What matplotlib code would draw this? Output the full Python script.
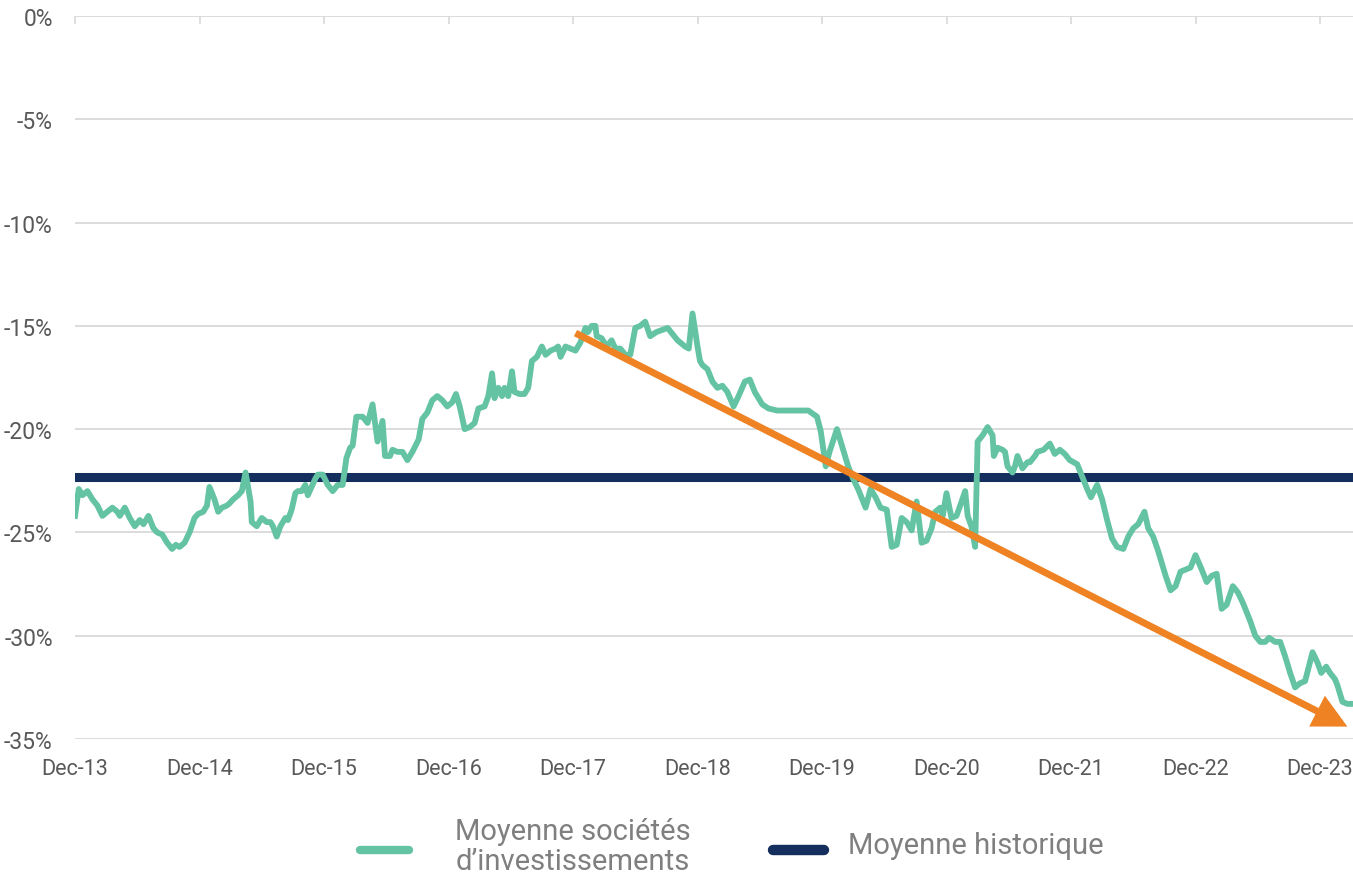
import numpy as np
import matplotlib
matplotlib.use("Agg")
import matplotlib.pyplot as plt
from matplotlib import font_manager
from matplotlib.lines import Line2D

# ---------------- data ----------------
# x: years since Dec-13 ; y: discount in %
x_years = [0.00, 0.03, 0.06, 0.10, 0.14, 0.18, 0.22, 0.26, 0.30, 0.34, 0.36, 0.40, 0.44, 0.48, 0.52,
           0.55, 0.59, 0.63, 0.66, 0.70, 0.74, 0.78, 0.81, 0.84, 0.88, 0.92, 0.96, 0.99, 1.03, 1.06,
           1.08, 1.12, 1.15, 1.18, 1.22, 1.24, 1.27, 1.31, 1.34, 1.37, 1.41, 1.42, 1.46, 1.50, 1.54,
           1.57, 1.59, 1.62, 1.65, 1.69, 1.71, 1.74, 1.77, 1.79, 1.82, 1.85, 1.87, 1.90, 1.93, 1.95,
           1.99, 2.03, 2.07, 2.11, 2.15, 2.18, 2.21, 2.23, 2.26, 2.31, 2.35, 2.39, 2.43, 2.47, 2.49,
           2.53, 2.55, 2.59, 2.63, 2.67, 2.71, 2.76, 2.79, 2.83, 2.87, 2.91, 2.95, 2.99, 3.03, 3.06,
           3.09, 3.13, 3.17, 3.21, 3.24, 3.29, 3.32, 3.35, 3.37, 3.40, 3.43, 3.45, 3.48, 3.51, 3.53,
           3.57, 3.61, 3.64, 3.67, 3.71, 3.75, 3.78, 3.82, 3.86, 3.88, 3.90, 3.94, 3.98, 4.02, 4.06,
           4.10, 4.12, 4.15, 4.18, 4.19, 4.23, 4.27, 4.31, 4.34, 4.38, 4.42, 4.46, 4.50, 4.54, 4.58,
           4.62, 4.67, 4.76, 4.80, 4.84, 4.90, 4.93, 4.96, 5.00, 5.02, 5.04, 5.08, 5.12, 5.16, 5.20,
           5.24, 5.29, 5.33, 5.38, 5.42, 5.46, 5.52, 5.57, 5.64, 5.74, 5.85, 5.89, 5.96, 5.99, 6.03,
           6.06, 6.12, 6.17, 6.21, 6.25, 6.29, 6.35, 6.39, 6.43, 6.47, 6.52, 6.56, 6.60, 6.64, 6.68,
           6.72, 6.76, 6.80, 6.84, 6.88, 6.91, 6.95, 6.97, 7.00, 7.04, 7.08, 7.11, 7.15, 7.17, 7.20,
           7.23, 7.25, 7.29, 7.33, 7.37, 7.38, 7.41, 7.45, 7.47, 7.49, 7.53, 7.55, 7.57, 7.61, 7.65,
           7.67, 7.71, 7.73, 7.78, 7.83, 7.87, 7.91, 7.95, 7.99, 8.05, 8.09, 8.13, 8.16, 8.21, 8.25,
           8.29, 8.33, 8.37, 8.42, 8.46, 8.50, 8.54, 8.59, 8.62, 8.66, 8.70, 8.76, 8.80, 8.84, 8.88,
           8.92, 8.96, 9.00, 9.05, 9.09, 9.13, 9.17, 9.21, 9.25, 9.30, 9.34, 9.38, 9.44, 9.48, 9.52,
           9.56, 9.59, 9.64, 9.68, 9.72, 9.76, 9.80, 9.84, 9.88, 9.94, 9.98, 10.01, 10.05, 10.08, 10.12,
           10.14, 10.18, 10.22, 10.27]
discount = [-24.2, -22.9, -23.2, -23.0, -23.4, -23.7, -24.2, -24.0, -23.8, -24.0, -24.2, -23.8, -24.3, -24.7, -24.4,
            -24.6, -24.2, -24.8, -25.0, -25.1, -25.5, -25.8, -25.6, -25.7, -25.5, -25.0, -24.3, -24.1, -24.0, -23.7,
            -22.8, -23.4, -24.0, -23.8, -23.7, -23.6, -23.4, -23.2, -23.0, -22.1, -23.5, -24.5, -24.7, -24.3, -24.5,
            -24.5, -24.7, -25.2, -24.7, -24.3, -24.4, -23.9, -23.1, -23.0, -23.0, -22.7, -23.2, -22.8, -22.4, -22.2,
            -22.2, -22.7, -23.0, -22.7, -22.7, -21.4, -20.9, -20.8, -19.4, -19.4, -19.7, -18.8, -20.6, -19.6, -21.3,
            -21.3, -21.0, -21.1, -21.1, -21.5, -21.1, -20.5, -19.5, -19.2, -18.6, -18.4, -18.6, -18.9, -18.7, -18.3,
            -18.9, -20.0, -19.9, -19.7, -19.0, -18.9, -18.4, -17.3, -18.5, -18.0, -18.4, -18.0, -18.4, -17.2, -18.2,
            -18.3, -18.3, -18.0, -16.7, -16.5, -16.0, -16.4, -16.2, -16.1, -16.0, -16.5, -16.0, -16.1, -16.2, -15.8,
            -15.1, -15.3, -15.0, -15.0, -15.5, -15.6, -16.0, -15.7, -16.1, -16.1, -16.4, -16.4, -15.1, -15.0, -14.8,
            -15.5, -15.3, -15.1, -15.4, -15.7, -16.0, -16.1, -14.4, -16.0, -16.7, -16.9, -17.1, -17.7, -18.0, -17.9,
            -18.2, -18.9, -18.4, -17.7, -17.6, -18.2, -18.8, -19.0, -19.1, -19.1, -19.1, -19.1, -19.4, -20.1, -21.8,
            -21.1, -20.0, -21.0, -21.8, -22.4, -22.9, -23.8, -22.9, -23.3, -23.8, -23.9, -25.7, -25.6, -24.3, -24.5,
            -24.9, -23.5, -25.5, -25.4, -24.8, -24.0, -23.8, -24.2, -23.1, -24.3, -24.2, -23.7, -23.0, -24.2, -24.7,
            -25.7, -20.6, -20.3, -19.9, -20.3, -21.3, -20.9, -21.0, -21.1, -21.8, -22.1, -21.8, -21.3, -21.9, -21.6,
            -21.6, -21.3, -21.1, -21.0, -20.7, -21.2, -21.0, -21.2, -21.5, -21.7, -22.3, -22.9, -23.3, -22.7, -23.4,
            -24.4, -25.3, -25.7, -25.8, -25.2, -24.8, -24.6, -24.0, -24.8, -25.2, -25.9, -27.1, -27.8, -27.6, -26.9,
            -26.8, -26.7, -26.1, -26.8, -27.4, -27.1, -27.0, -28.7, -28.5, -27.6, -27.9, -28.4, -29.3, -30.0, -30.3,
            -30.3, -30.1, -30.3, -30.3, -31.0, -31.8, -32.5, -32.3, -32.2, -30.8, -31.3, -31.8, -31.5, -31.8, -32.1,
            -32.4, -33.2, -33.3, -33.3]

historical_avg = -22.3

trend_start = (4.02, -15.35)
trend_end = (10.22, -34.4)

tick_labels = ["Dec-13", "Dec-14", "Dec-15", "Dec-16", "Dec-17", "Dec-18",
               "Dec-19", "Dec-20", "Dec-21", "Dec-22", "Dec-23"]
y_ticks = [0, -5, -10, -15, -20, -25, -30, -35]

series_labels = ["Moyenne sociétés\nd\u2019investissements", "Moyenne historique"]

# ---------------- style ----------------
TEAL = "#63C3A3"
NAVY = "#142E5E"
ORANGE = "#EF8223"
GRID = "#D9D9D9"
TXT = "#595959"
LEG_TXT = "#7F7F7F"

avail = {f.name for f in font_manager.fontManager.ttflist}
fam = "Liberation Sans Narrow" if "Liberation Sans Narrow" in avail else "Roboto"
plt.rcParams["font.family"] = [fam, "DejaVu Sans"]

W, H = 1353, 879
fig = plt.figure(figsize=(W / 100, H / 100), dpi=100)
ax = fig.add_axes([75 / W, 1 - 740 / H, (W - 75) / W, (740 - 17) / H])

ax.set_xlim(0, 10.265)
ax.set_ylim(-35, 0)

for s in ax.spines.values():
    s.set_visible(False)

ax.set_yticks(y_ticks)
ax.set_yticklabels([f"{v}%" for v in y_ticks])
ax.yaxis.grid(True, color=GRID, lw=1.3, zorder=0)
ax.tick_params(axis="y", length=0, pad=16, labelsize=16.5, labelcolor=TXT)

ax.set_xticks(range(len(tick_labels)))
ax.set_xticklabels(tick_labels)
ax.tick_params(axis="x", which="both", top=True, bottom=False, direction="in",
               length=6, width=1.2, color=GRID, pad=14, labelsize=15.5, labelcolor=TXT)

ax.axhline(historical_avg, color=NAVY, lw=6.5, zorder=2)
ax.plot(x_years, discount, color=TEAL, lw=4.2, solid_joinstyle="round", zorder=3)

ax.annotate("", xy=trend_end, xytext=trend_start,
            arrowprops=dict(arrowstyle="-|>,head_length=0.75,head_width=0.38",
                            mutation_scale=22, color=ORANGE, lw=5,
                            capstyle="butt", joinstyle="miter",
                            shrinkA=0, shrinkB=0),
            zorder=4)

# ---------------- legend ----------------
def fx(px):
    return px / W

def fy(py):
    return 1 - py / H

fig.add_artist(Line2D([fx(360), fx(409)], [fy(851), fy(851)], color=TEAL, lw=6,
                      solid_capstyle="round", transform=fig.transFigure))
fig.text(fx(573), fy(847), series_labels[0], ha="center", va="center",
         multialignment="center", fontsize=21, color=LEG_TXT, linespacing=1.05)
fig.add_artist(Line2D([fx(773), fx(824)], [fy(851), fy(851)], color=NAVY, lw=7.5,
                      solid_capstyle="round", transform=fig.transFigure))
fig.text(fx(848), fy(846), series_labels[1], ha="left", va="center",
         fontsize=21, color=LEG_TXT)

fig.savefig("out.png", dpi=100)
